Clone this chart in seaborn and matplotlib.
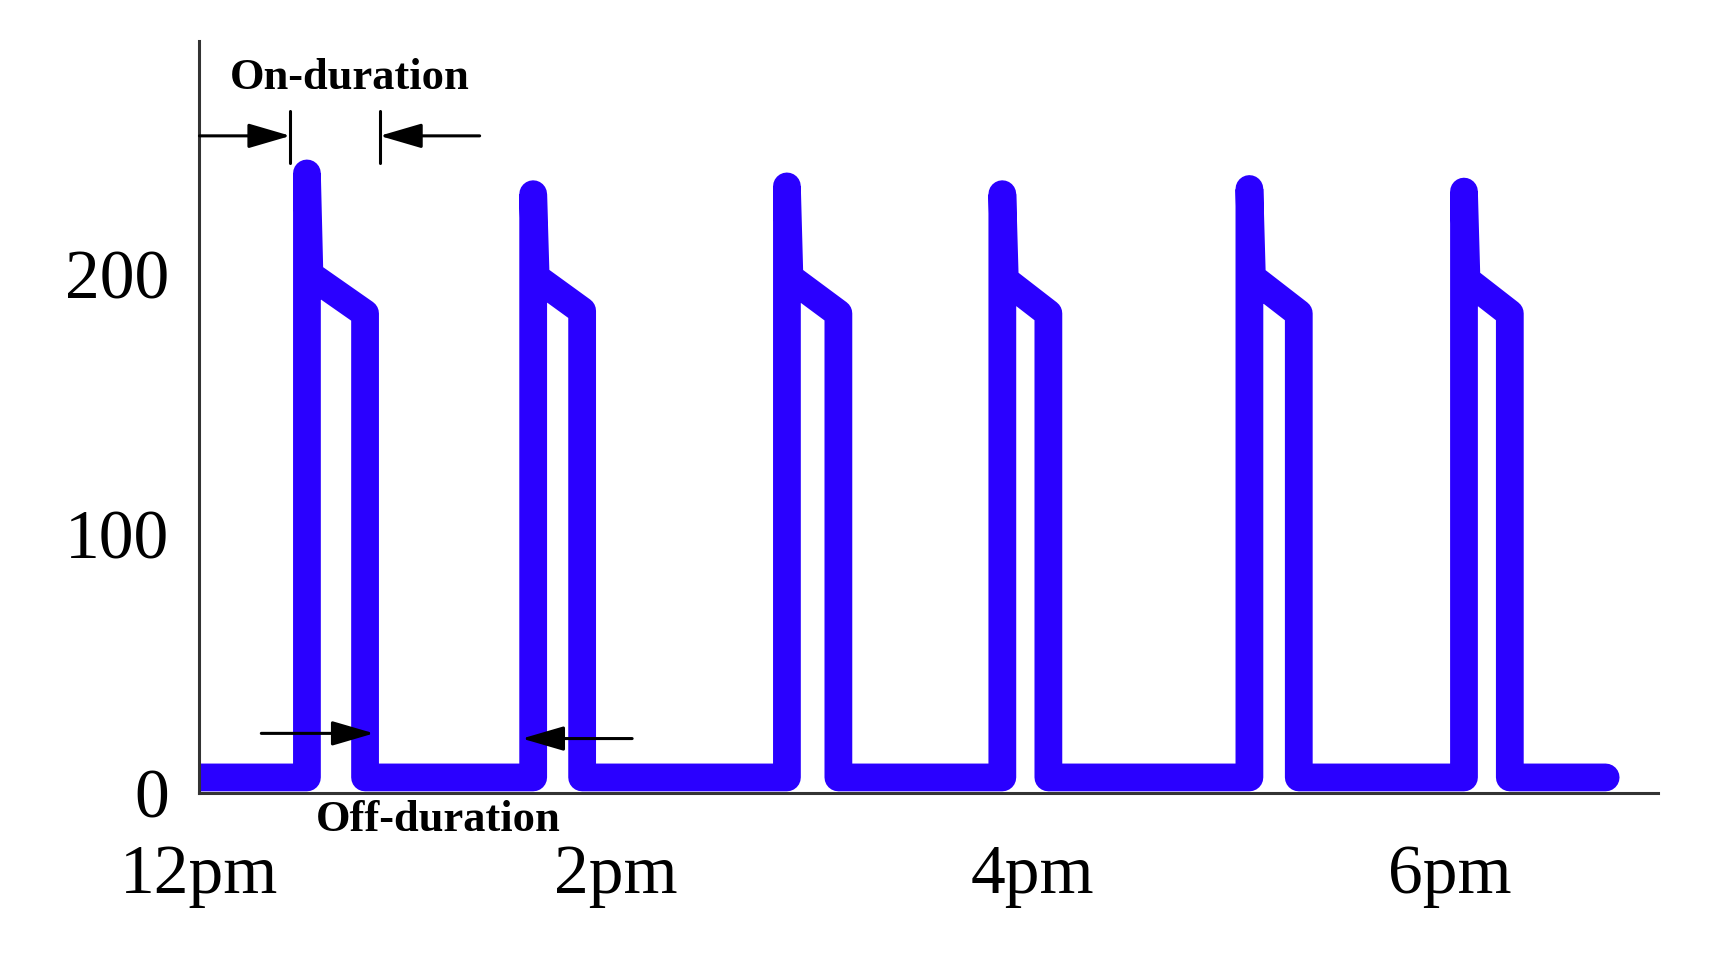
import matplotlib
matplotlib.use("Agg")
import matplotlib.pyplot as plt
import seaborn as sns
import pandas as pd

# ---- data (hours after 12pm, values) ----
rise_times = [0.516, 1.602, 2.820, 3.854, 5.040, 6.070]
fall_times = [0.795, 1.837, 3.067, 4.075, 5.277, 6.290]
peak_vals = [239, 231, 234, 231, 233, 232]
knee_vals = [200, 199, 199, 198, 199, 198]
drop_vals = [185, 186, 185, 185, 185, 185]
knee_offset = 0.012
baseline = 6
t_start, t_end = 0.0, 6.75

xtick_pos = [0, 2, 4, 6]
xtick_labels = ["12pm", "2pm", "4pm", "6pm"]
ytick_pos = [0, 100, 200]
ytick_labels = ["0", "100", "200"]

# build the path table
ts, vs = [t_start], [baseline]
for r, f, p, k, d in zip(rise_times, fall_times, peak_vals, knee_vals, drop_vals):
    ts += [r, r, r + knee_offset, f, f]
    vs += [baseline, p, k, d, baseline]
ts.append(t_end)
vs.append(baseline)
df = pd.DataFrame({"t": ts, "v": vs})

sns.set_style("white")
plt.rcParams["font.family"] = ["Liberation Serif", "DejaVu Serif"]
plt.rcParams["text.color"] = "black"
plt.rcParams["xtick.labelcolor"] = "black"
plt.rcParams["ytick.labelcolor"] = "black"

fig = plt.figure(figsize=(17.09, 9.59), dpi=100)
ax = fig.add_axes([0.1167, 0.1731, 0.8533, 0.7839])

line_color = "#2a00ff"
sns.lineplot(data=df, x="t", y="v", sort=False, estimator=None, ax=ax,
             color=line_color, linewidth=20,
             solid_joinstyle="round", solid_capstyle="round")
for ln in ax.lines:
    ln.set_linewidth(20)
    ln.set_solid_joinstyle("round")
    ln.set_solid_capstyle("round")

ax.set_xlim(0, 7)
ax.set_ylim(0, 290)
ax.set_xlabel("")
ax.set_ylabel("")
ax.set_xticks(xtick_pos)
ax.set_xticklabels(xtick_labels)
ax.set_yticks(ytick_pos)
ax.set_yticklabels(ytick_labels)

for s in ["top", "right"]:
    ax.spines[s].set_visible(False)
for s in ["left", "bottom"]:
    ax.spines[s].set_color("#333333")
    ax.spines[s].set_linewidth(2.2)

ax.tick_params(axis="x", direction="in", length=19, width=1.5, color="#333333",
               labelsize=50, pad=37, labelcolor="black")
ax.tick_params(axis="y", direction="in", length=21, width=1.5, color="#333333",
               labelsize=50, pad=22, labelcolor="black")

# ---- annotations ----
arrow_kw = dict(arrowstyle="-|>,head_length=1.3,head_width=0.38",
                color="black", lw=2.2, shrinkA=0, shrinkB=0, mutation_scale=20)

# On-duration
ax.text(0.72, 276, "On-duration", fontsize=32, fontweight="bold",
        ha="center", va="center", color="black")
ax.annotate("", xy=(0.437, 253.5), xytext=(0.0, 253.5), arrowprops=arrow_kw)
ax.annotate("", xy=(0.865, 253.5), xytext=(1.345, 253.5), arrowprops=arrow_kw)
ax.plot([0.437, 0.437], [243, 263], color="black", lw=2.2)
ax.plot([0.865, 0.865], [243, 263], color="black", lw=2.2)

# Off-duration
ax.annotate("", xy=(0.838, 23), xytext=(0.297, 23), arrowprops=arrow_kw,
            annotation_clip=False)
ax.annotate("", xy=(1.548, 21), xytext=(2.077, 21), arrowprops=arrow_kw,
            annotation_clip=False)
ax.text(1.146, -10.5, "Off-duration", fontsize=32, fontweight="bold",
        ha="center", va="center", clip_on=False, color="black")

fig.savefig("out.png", dpi=100, facecolor="white")
